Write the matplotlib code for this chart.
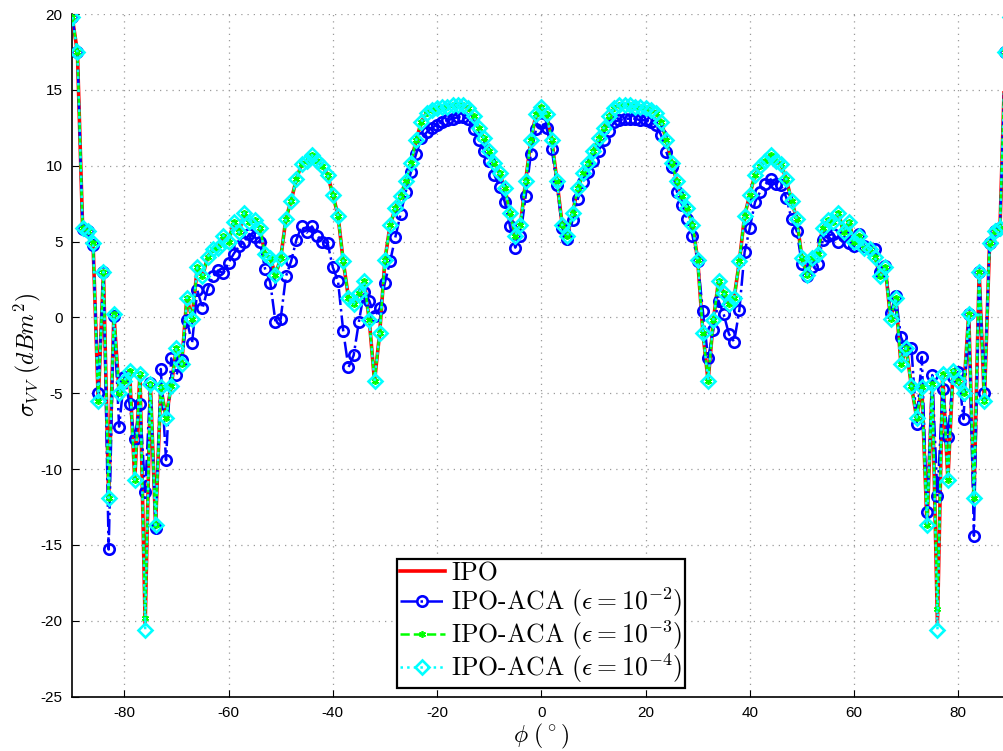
"""Bistatic RCS sigma_VV versus phi: IPO against IPO-ACA at three tolerances."""

import matplotlib

matplotlib.use("Agg")
import matplotlib.pyplot as plt
import matplotlib.ticker as mticker
from matplotlib import font_manager


PHI = list(range(-90, 91))

# IPO reference (dBm^2), phi = -90 .. 90 step 1
IPO = [
    19.8, 17.5, 5.9, 5.7, 4.9, -5.5, 3.0, -11.9, 0.2, -5.0,
    -4.2, -3.5, -10.7, -3.7, -20.2, -4.4, -13.7, -4.6, -6.6, -4.5,
    -2.0, -3.1, 1.3, -0.1, 3.3, 2.7, 4.0, 4.5, 4.6, 5.4,
    5.0, 6.3, 5.6, 6.9, 6.3, 6.4, 5.9, 4.2, 3.9, 2.8,
    3.9, 6.5, 7.7, 9.1, 10.1, 10.3, 10.7, 10.3, 10.0, 9.4,
    8.1, 6.7, 3.7, 1.3, 0.9, 1.6, 2.4, -0.2, -4.2, -1.0,
    3.8, 6.1, 7.2, 8.0, 9.0, 10.2, 11.7, 12.9, 13.5, 13.7,
    13.8, 13.9, 13.9, 14.0, 14.0, 14.0, 13.8, 13.3, 12.5, 11.8,
    11.0, 10.2, 9.5, 8.5, 6.9, 5.4, 6.1, 9.0, 11.7, 13.4,
    13.9,
    13.4, 11.7, 9.0, 6.1, 5.4, 6.9, 8.5, 9.5, 10.2, 11.0,
    11.8, 12.5, 13.3, 13.8, 14.0, 14.0, 14.0, 13.9, 13.9, 13.8,
    13.7, 13.5, 12.9, 11.7, 10.2, 9.0, 8.0, 7.2, 6.1, 3.8,
    -1.0, -4.2, -0.2, 2.4, 1.6, 0.9, 1.3, 3.7, 6.7, 8.1,
    9.4, 10.0, 10.3, 10.7, 10.3, 10.1, 9.1, 7.7, 6.5, 3.9,
    2.8, 3.9, 4.2, 5.9, 6.4, 6.3, 6.9, 5.6, 6.3, 5.0,
    5.4, 4.6, 4.5, 4.0, 2.7, 3.3, -0.1, 1.3, -3.1, -2.0,
    -4.5, -6.6, -4.6, -13.7, -4.4, -20.2, -3.7, -10.7, -3.5, -4.2,
    -5.0, 0.2, -11.9, 3.0, -5.5, 4.9, 5.7, 5.9, 17.5, 19.8,
]

# IPO-ACA, eps = 1e-2
ACA_1E2 = [
    19.8, 17.5, 5.8, 5.7, 4.8, -5.0, 3.0, -15.3, 0.1, -7.2,
    -3.9, -5.7, -8.0, -5.7, -11.5, -4.3, -13.9, -3.4, -9.4, -2.7,
    -3.8, -2.8, -0.2, -1.7, 1.8, 0.6, 1.9, 2.7, 3.1, 2.9,
    3.6, 4.2, 4.7, 5.0, 5.5, 5.3, 5.0, 3.2, 2.3, -0.3,
    -0.1, 2.7, 3.7, 5.1, 6.0, 5.6, 6.0, 5.4, 5.0, 4.9,
    3.3, 2.4, -0.9, -3.3, -2.5, -0.3, 1.7, 1.1, 0.1, 0.6,
    2.3, 3.7, 5.3, 6.8, 8.3, 9.6, 10.8, 11.8, 12.2, 12.5,
    12.7, 12.9, 13.0, 13.1, 13.2, 13.2, 13.1, 12.4, 11.7, 11.0,
    10.3, 9.4, 8.6, 7.6, 6.0, 4.6, 5.4, 8.0, 10.8, 12.4,
    12.8,
    12.5, 11.1, 8.7, 5.9, 5.2, 6.4, 7.8, 8.9, 9.6, 10.3,
    11.0, 11.7, 12.3, 12.9, 13.0, 13.1, 13.1, 13.1, 13.0, 13.0,
    12.9, 12.7, 12.0, 10.9, 9.9, 8.3, 7.4, 6.5, 5.4, 3.7,
    0.4, -2.7, -0.8, 1.1, 0.2, -1.1, -1.6, 0.5, 4.3, 5.9,
    7.6, 8.3, 8.8, 9.1, 8.8, 8.7, 7.9, 6.5, 5.7, 3.5,
    2.7, 3.3, 3.5, 5.1, 5.4, 5.5, 5.0, 5.4, 4.9, 4.7,
    5.5, 4.7, 4.5, 4.5, 3.0, 3.4, 0.3, 1.4, -1.3, -2.1,
    -2.0, -7.0, -2.6, -12.8, -3.8, -11.8, -4.7, -7.9, -3.9, -3.6,
    -6.7, 0.2, -14.4, 3.0, -5.0, 4.9, 5.7, 5.9, 17.5, 19.8,
]

# eps = 1e-3 and 1e-4 sit on the IPO curve except at the deepest nulls
ACA_1E3_NULLS = {-76: -19.8, 76: -19.2}
ACA_1E4_NULLS = {-76: -20.6, 76: -20.6}

ACA_1E3 = [ACA_1E3_NULLS.get(p, v) for p, v in zip(PHI, IPO)]
ACA_1E4 = [ACA_1E4_NULLS.get(p, v) for p, v in zip(PHI, IPO)]

LABELS = [
    "IPO",
    r"IPO-ACA ($\epsilon = 10^{-2}$)",
    r"IPO-ACA ($\epsilon = 10^{-3}$)",
    r"IPO-ACA ($\epsilon = 10^{-4}$)",
]


def tick_font() -> str:
    for name in ("Liberation Sans Narrow", "Liberation Sans", "DejaVu Sans"):
        try:
            font_manager.findfont(name, fallback_to_default=False)
            return name
        except ValueError:
            continue
    return "DejaVu Sans"


def main() -> None:
    plt.rcParams["mathtext.fontset"] = "cm"
    plt.rcParams["axes.unicode_minus"] = False

    fig = plt.figure(figsize=(10.04, 7.51), dpi=100)
    ax = fig.add_axes([0.0719, 0.0724, 0.9345, 0.9089])

    ax.plot(PHI, IPO, color="#ff0000", linewidth=2.6, label=LABELS[0], zorder=3)
    ax.plot(PHI, ACA_1E2, color="#0000ff", linewidth=1.8, linestyle="-.",
            marker="o", markersize=7.5, markerfacecolor="none",
            markeredgewidth=1.9, label=LABELS[1], zorder=4)
    ax.plot(PHI, ACA_1E3, color="#00ff00", linewidth=1.8, linestyle="--",
            marker=(6, 2, 0), markersize=5, markeredgewidth=1.2,
            label=LABELS[2], zorder=5)
    ax.plot(PHI, ACA_1E4, color="#00ffff", linewidth=1.8, linestyle=":",
            marker="D", markersize=7.2, markerfacecolor="none",
            markeredgewidth=1.9, label=LABELS[3], zorder=6)

    ax.set_xlim(-90, 90)
    ax.set_ylim(-25, 20)
    ax.xaxis.set_major_locator(mticker.MultipleLocator(20))
    ax.yaxis.set_major_locator(mticker.MultipleLocator(5))
    ax.grid(True, color="#9a9a9a", linestyle=(0, (1, 4)), linewidth=0.9)

    ax.spines["top"].set_visible(False)
    ax.spines["right"].set_visible(False)
    for side in ("left", "bottom"):
        ax.spines[side].set_linewidth(1.2)
    ax.tick_params(direction="in", length=5, width=0.8, labelsize=11, pad=7)
    for label in ax.get_xticklabels() + ax.get_yticklabels():
        label.set_fontfamily(tick_font())

    ax.set_xlabel(r"$\phi\ (\,^{\circ}\,)$", fontsize=17, labelpad=1)
    ax.set_ylabel(r"$\sigma_{V\,V}\ (dBm^2)$", fontsize=17, labelpad=-2)

    legend = ax.legend(loc="lower center", bbox_to_anchor=(0.5, 0.0126),
                       borderaxespad=0, fancybox=False, framealpha=1,
                       edgecolor="black", handlelength=1.75, handletextpad=0.25,
                       labelspacing=0.0, borderpad=0.1,
                       prop={"family": "cmr10", "size": 18.5})
    legend.get_frame().set_linewidth(1.6)
    legend.set_zorder(10)

    fig.savefig("out.png", dpi=100)
    plt.close(fig)


if __name__ == "__main__":
    main()
